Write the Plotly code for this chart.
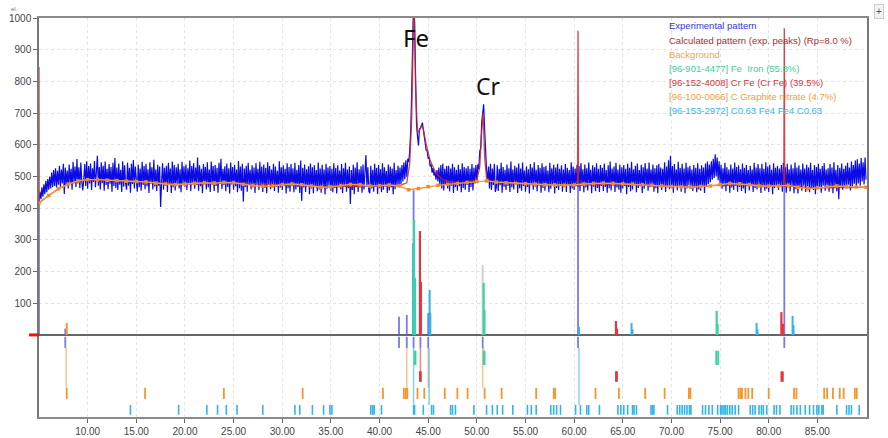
import plotly.graph_objects as go

# ---- measured diffractogram (2-theta step 0.1 deg, from 5.0 to 90.0) ----
START_2THETA, STEP_2THETA = 5.0, 0.1
exp_counts = [
    418, 452, 428, 466, 436, 475, 444, 486, 450, 492,
    458, 500, 462, 512, 466, 520, 470, 526, 465, 518,
    474, 534, 468, 522, 478, 540, 445, 528, 471, 519,
    462, 538, 476, 524, 458, 546, 480, 531, 467, 555,
    478, 529, 463, 544, 482, 456, 490, 539, 470, 548,
    461, 533, 478, 541, 457, 526, 483, 549, 466, 537,
    565, 471, 530, 459, 545, 479, 534, 455, 547, 473,
    524, 460, 539, 477, 530, 452, 543, 470, 558, 464,
    528, 457, 541, 474, 521, 451, 548, 468, 535, 479,
    458, 543, 471, 527, 449, 540, 476, 552, 462, 531,
    478, 452, 538, 466, 525, 455, 546, 473, 533, 460,
    540, 469, 523, 448, 545, 477, 529, 459, 553, 468,
    522, 454, 537, 471, 531, 404, 480, 542, 458, 527,
    470, 534, 451, 543, 476, 525, 448, 547, 466, 536,
    456, 529, 478, 540, 462, 523, 450, 546, 472, 532,
    468, 538, 457, 526, 475, 550, 453, 533, 480, 542,
    461, 528, 473, 560, 455, 535, 469, 524, 447, 539,
    478, 530, 459, 545, 466, 522, 451, 547, 474, 533,
    454, 536, 470, 527, 449, 543, 477, 556, 460, 524,
    472, 532, 453, 541, 467, 526, 446, 544, 475, 530,
    458, 537, 469, 522, 450, 549, 463, 531, 455, 540,
    420, 525, 467, 534, 452, 543, 472, 521, 459, 535,
    466, 528, 448, 542, 474, 524, 457, 546, 469, 531,
    451, 538, 464, 527, 447, 545, 476, 533, 460, 522,
    473, 540, 454, 531, 468, 518, 449, 548, 465, 529,
    457, 535, 471, 524, 446, 542, 463, 530, 452, 539,
    469, 526, 450, 543, 459, 521, 467, 536, 448, 550,
    423, 527, 465, 538, 451, 523, 470, 532, 444, 541,
    462, 529, 447, 535, 466, 520, 453, 544, 459, 525,
    449, 537, 468, 522, 443, 540, 461, 528, 471, 533,
    455, 524, 450, 542, 464, 527, 446, 535, 467, 519,
    460, 539, 448, 526, 469, 543, 452, 522, 463, 531,
    413, 520, 457, 537, 444, 528, 466, 545, 451, 523,
    465, 532, 449, 538, 459, 525, 568, 468, 529, 453,
    447, 534, 462, 521, 452, 540, 467, 527, 445, 536,
    463, 523, 450, 542, 458, 529, 469, 517, 448, 538,
    456, 531, 465, 525, 444, 543, 460, 520, 470, 534,
    468, 528, 476, 536, 484, 544, 491, 551, 499, 556,
    545, 580, 640, 760, 950, 1060, 985, 800, 665, 628,
    598, 650, 652, 658, 670, 648, 620, 606, 582, 580,
    556, 560, 532, 538, 512, 526, 503, 514, 490, 520,
    484, 528, 470, 536, 462, 541, 456, 524, 474, 533,
    462, 534, 453, 525, 471, 540, 448, 529, 467, 521,
    455, 537, 469, 523, 450, 542, 464, 530, 458, 526,
    473, 533, 451, 524, 467, 539, 456, 527, 478, 536,
    486, 538, 522, 580, 590, 672, 700, 728, 650, 560,
    520, 487, 531, 462, 540, 457, 525, 473, 540, 451,
    465, 535, 454, 524, 472, 543, 449, 530, 468, 521,
    457, 538, 470, 526, 451, 547, 466, 522, 459, 534,
    474, 528, 448, 541, 463, 525, 455, 544, 470, 519,
    452, 532, 467, 523, 446, 539, 472, 528, 458, 545,
    468, 521, 453, 536, 471, 527, 449, 542, 464, 530,
    455, 534, 469, 519, 450, 543, 461, 526, 473, 537,
    446, 528, 464, 540, 457, 524, 470, 535, 452, 522,
    466, 539, 451, 527, 473, 520, 448, 545, 462, 531,
    457, 525, 469, 537, 467, 533, 454, 542, 471, 523,
    450, 538, 465, 526, 456, 544, 472, 521, 447, 535,
    468, 529, 453, 542, 464, 524, 451, 536, 470, 527,
    454, 541, 467, 520, 449, 535, 463, 547, 456, 525,
    471, 531, 451, 543, 465, 522, 458, 538, 449, 529,
    462, 536, 470, 524, 444, 540, 467, 527, 453, 546,
    459, 523, 472, 534, 450, 541, 464, 520, 469, 537,
    448, 529, 461, 542, 473, 525, 455, 544, 466, 522,
    469, 538, 452, 526, 463, 535, 447, 540, 471, 528,
    457, 524, 468, 545, 451, 531, 465, 551, 460, 565,
    464, 533, 449, 539, 470, 522, 456, 546, 467, 527,
    452, 540, 466, 525, 447, 543, 462, 529, 473, 534,
    468, 522, 454, 536, 465, 527, 450, 542, 459, 524,
    455, 535, 471, 528, 448, 541, 467, 547, 476, 538,
    482, 548, 490, 556, 495, 570, 500, 560, 488, 548,
    476, 537, 461, 526, 468, 543, 453, 529, 470, 522,
    449, 538, 465, 525, 457, 544, 471, 530, 452, 535,
    467, 523, 454, 541, 462, 527, 447, 536, 469, 520,
    456, 534, 470, 522, 451, 543, 464, 528, 459, 539,
    472, 526, 448, 540, 466, 524, 455, 545, 461, 531,
    451, 537, 468, 521, 444, 542, 463, 527, 470, 534,
    457, 525, 471, 536, 452, 543, 467, 529, 449, 540,
    465, 523, 453, 538, 469, 526, 447, 544, 460, 528,
    446, 535, 464, 522, 455, 541, 471, 525, 451, 537,
    469, 528, 450, 543, 462, 520, 457, 536, 444, 530,
    460, 540, 468, 524, 449, 533, 471, 542, 455, 522,
    466, 526, 452, 539, 463, 528, 447, 545, 469, 521,
    453, 536, 428, 527, 467, 541, 458, 524, 471, 534,
    462, 543, 474, 528, 456, 547, 469, 536, 477, 550,
    466, 554, 478, 541, 471, 558, 484, 545, 475, 560,
    490,
]
exp_2theta = [round(START_2THETA + i * STEP_2THETA, 1) for i in range(len(exp_counts))]

# ---- fitted background (anchor points) ----
bg_2theta = list(range(5, 91))
bg_counts = [
    416, 440, 461, 476, 486, 490, 490, 488, 487, 485,
    484, 483, 479, 476, 474, 476, 478, 480, 479, 481,
    480, 475, 471, 469, 470, 474, 476, 474, 470, 466,
    467, 471, 475, 474, 470, 471, 473, 470, 458, 462,
    468, 472, 475, 478, 481, 484, 486, 482, 480, 478,
    477, 476, 474, 473, 472, 473, 476, 478, 479, 478,
    477, 476, 474, 472, 470, 468, 467, 466, 468, 470,
    474, 478, 477, 474, 470, 469, 470, 472, 466, 461,
    464, 468, 470, 468, 467, 466,
]

# ---- calculated pattern (exp. peaks) ----
calc_2theta = [5.0, 5.02, 6, 7, 8, 10, 15, 20, 25, 30, 35, 40, 42.0, 42.8, 43.1, 43.3,
               43.45, 43.55, 43.7, 43.9, 44.1, 44.3, 44.5, 44.8, 45.2, 45.8, 46.5, 48,
               50.0, 50.3, 50.5, 50.65, 50.8, 51.0, 51.3, 55, 60.35, 60.4, 60.45, 65,
               70, 74, 78, 81.55, 81.6, 81.65, 85, 90]
calc_counts = [845, 418, 440, 461, 476, 490, 484, 476, 480, 474, 467, 471, 470, 480, 540, 680,
               1080, 1080, 780, 640, 645, 662, 650, 600, 550, 510, 490, 478,
               488, 530, 640, 702, 560, 495, 486, 477, 473, 960, 473, 477,
               468, 470, 474, 470, 968, 470, 464, 466]

# ---- peak intensity sticks (above zero) ----
obs_pos = [5.0, 7.7, 42.0, 42.8, 43.5, 45.0, 60.4, 81.6]
obs_h = [418, 20, 57, 63, 457, 69, 472, 472]
faint_pos = [50.6]
faint_h = [221]
fe_pos = [43.55, 43.65, 50.7, 50.78, 74.65, 74.75]
fe_h = [363, 180, 164, 79, 76, 35]
cr_pos = [44.15, 44.25, 64.3, 64.4, 81.3, 81.45]
cr_h = [328, 167, 44, 20, 72, 35]
gr_pos = [7.85]
gr_h = [38]
c063_pos = [43.45, 45.15, 45.22, 60.5, 65.9, 66.0, 78.75, 78.85, 82.45, 82.55]
c063_h = [290, 142, 70, 25, 38, 18, 38, 18, 60, 30]

# ---- reflection positions (marker rows below zero) ----
obs_marks = [7.7, 42.0, 42.8, 43.5, 44.2, 45.0, 50.6, 60.4, 81.6]
fe_marks = [43.6, 43.7, 50.7, 50.8, 74.6, 74.8]
cr_marks = [44.15, 44.25, 64.3, 64.4, 81.3, 81.45]
gr_marks = [7.85, 15.9, 24.0, 32.1, 40.35, 42.5, 42.7, 42.85, 43.9, 44.6, 46.7, 48.0,
            49.05, 50.8, 52.55, 56.1, 57.9, 58.05, 62.2, 64.6, 67.3, 69.3, 71.8, 71.95,
            76.9, 77.1, 77.25, 77.6, 77.9, 78.3, 80.0, 82.6, 82.85, 85.7, 86.0, 86.6,
            87.3, 87.7, 88.85, 89.05]
c063_marks = [14.4, 19.35, 22.25, 23.35, 24.25, 25.35, 28.0, 31.3, 31.8, 33.1, 34.25,
              34.9, 35.1, 39.1, 39.3, 39.45, 40.2, 43.5, 43.6, 44.5, 45.35, 45.55, 47.3,
              47.5, 47.8, 49.7, 51.0, 51.6, 52.1, 52.65, 53.7, 55.2, 55.6, 56.1, 57.6,
              57.9, 58.2, 58.6, 60.15, 60.65, 61.3, 61.5, 62.6, 64.5, 64.8, 65.1, 65.5,
              66.0, 66.15, 66.4, 67.9, 68.05, 68.2, 69.6, 70.6, 70.85, 71.1, 71.35, 71.6,
              71.85, 72.0, 73.2, 73.5, 73.85, 74.2, 74.75, 75.05, 75.2, 75.4, 75.55,
              75.75, 76.0, 76.25, 76.55, 76.9, 78.1, 78.35, 78.6, 79.0, 79.25, 79.45,
              79.8, 80.55, 80.8, 81.15, 82.3, 82.55, 82.9, 83.25, 83.75, 84.2, 84.6,
              84.95, 85.15, 85.45, 85.6, 87.0, 88.0, 88.25, 88.5, 89.3]

# strong reflections joined from the zero line to their phase row
gr_links = [7.8, 42.8, 45.0, 50.6]
c063_links = [43.5, 45.1, 60.5]
cr_links = [44.2]
fe_links = [50.7]

x_ticks = [10, 15, 20, 25, 30, 35, 40, 45, 50, 55, 60, 65, 70, 75, 80, 85]
y_ticks = [100, 200, 300, 400, 500, 600, 700, 800, 900, 1000]

legend_lines = [
    ("Experimental pattern", "#3434e0"),
    ("Calculated pattern (exp. peaks) (Rp=8.0 %)", "#b8282e"),
    ("Background", "#f4a24c"),
    ("[96-901-4477] Fe  Iron (55.8%)", "#3ccf9a"),
    ("[96-152-4008] Cr Fe (Cr Fe) (39.5%)", "#e0323c"),
    ("[96-100-0066] C Graphite nitrate (4.7%)", "#f3a040"),
    ("[96-153-2972] C0.63 Fe4 Fe4 C0.63", "#3ab4ec"),
]

# vertical bands of each marker row (counts units)
ROW_OBS = (-6, -41)
ROW_FE = (-50, -95)
ROW_CR = (-115, -148)
ROW_GR = (-167, -202)
ROW_C063 = (-221, -252)

PURPLE = "rgba(88,88,226,0.8)"
TEAL = "#3ed2a2"
RED = "#e8343c"
ORANGE = "#f29632"
CYAN = "#30b4ea"


def sticks(pos, heights, base=0.0):
    xs, ys = [], []
    for p, h in zip(pos, heights):
        xs += [p, p, None]
        ys += [base, h, None]
    return xs, ys


def row_marks(pos, row):
    xs, ys = [], []
    for p in pos:
        xs += [p, p, None]
        ys += [row[0], row[1], None]
    return xs, ys


def line_trace(xs, ys, color, width):
    return go.Scatter(x=xs, y=ys, mode="lines", line=dict(color=color, width=width),
                      hoverinfo="skip", showlegend=False, cliponaxis=False)


fig = go.Figure()

# connectors from the zero line to the rows
for links, row, color in [(gr_links, ROW_GR, "rgba(242,150,50,0.55)"),
                          (c063_links, ROW_C063, "rgba(48,180,234,0.6)"),
                          (cr_links, ROW_CR, "rgba(232,52,60,0.6)"),
                          (fe_links, ROW_FE, "rgba(62,210,162,0.6)")]:
    fig.add_trace(line_trace(*row_marks(links, (-41, row[0])), color, 1.5))

# marker rows
fig.add_trace(line_trace(*row_marks(obs_marks, ROW_OBS), PURPLE, 1.8))
fig.add_trace(line_trace(*row_marks(fe_marks, ROW_FE), TEAL, 1.8))
fig.add_trace(line_trace(*row_marks(cr_marks, ROW_CR), RED, 1.8))
fig.add_trace(line_trace(*row_marks(gr_marks, ROW_GR), ORANGE, 1.8))
fig.add_trace(line_trace(*row_marks(c063_marks, ROW_C063), CYAN, 1.6))

# peak sticks
fig.add_trace(line_trace(*sticks(obs_pos, obs_h), PURPLE, 1.8))
fig.add_trace(line_trace(*sticks(faint_pos, faint_h), "#d4d4d8", 2.2))
fig.add_trace(line_trace(*sticks(c063_pos, c063_h), CYAN, 2))
fig.add_trace(line_trace(*sticks(fe_pos, fe_h), TEAL, 2.2))
fig.add_trace(line_trace(*sticks(cr_pos, cr_h), RED, 2.2))
fig.add_trace(line_trace(*sticks(gr_pos, gr_h), ORANGE, 2))

# experimental, calculated and background curves
fig.add_trace(go.Scatter(x=exp_2theta, y=exp_counts, mode="lines",
                         line=dict(color="#0a0ae4", width=1.2), hoverinfo="skip",
                         showlegend=False))
fig.add_trace(go.Scatter(x=calc_2theta, y=calc_counts, mode="lines",
                         line=dict(color="#c8262c", width=1.3), opacity=0.85,
                         hoverinfo="skip", showlegend=False))
fig.add_trace(go.Scatter(x=bg_2theta, y=bg_counts, mode="lines+markers",
                         line=dict(color="#f39a3a", width=1.4),
                         marker=dict(color="#f08a28", size=3.5, symbol="square"),
                         hoverinfo="skip", showlegend=False))

# legend block
for i, (text, color) in enumerate(legend_lines):
    fig.add_annotation(xref="paper", yref="paper", x=0.7585, y=0.980 - i * 0.0355,
                       xanchor="left", yanchor="middle", showarrow=False,
                       text=text, font=dict(family="Liberation Sans", size=9.5, color=color))

# phase labels
fig.add_annotation(x=43.7, y=937, text="Fe", showarrow=False,
                   font=dict(family="Noto Sans", size=24, color="#111111"))
fig.add_annotation(x=51.2, y=786, text="Cr", showarrow=False,
                   font=dict(family="Noto Sans", size=23, color="#111111"))

# small widgets around the frame
fig.add_annotation(xref="paper", yref="paper", x=1.02, y=1.035, text="+", showarrow=False,
                   font=dict(family="Liberation Sans", size=10, color="#555555"),
                   bgcolor="#f3f3f3", bordercolor="#cccccc", borderwidth=1, borderpad=1)
fig.add_annotation(xref="paper", yref="paper", x=-0.036, y=1.034, text="el.", showarrow=False,
                   font=dict(family="Liberation Sans", size=6, color="#777777"))
fig.add_shape(type="line", xref="paper", yref="y", x0=-0.012, x1=0.0, y0=0, y1=0,
              line=dict(color="#ee1111", width=3))

fig.update_layout(
    width=888, height=438,
    margin=dict(l=39, r=21, t=18, b=21),
    paper_bgcolor="white", plot_bgcolor="white",
    font=dict(family="Liberation Sans", size=10, color="#444444"),
    xaxis=dict(range=[5.0, 90.1], tickvals=x_ticks, tickformat=".2f", automargin=False,
               showgrid=True, gridcolor="#e4e4e4", griddash="dot", gridwidth=1,
               showline=True, linecolor="#8a8a8a", linewidth=2, mirror=True,
               layer="below traces",
               ticks="outside", ticklen=4, tickcolor="#666666", zeroline=False),
    yaxis=dict(range=[-259, 1000], tickvals=y_ticks, automargin=False,
               showgrid=True, gridcolor="#e4e4e4", griddash="dot", gridwidth=1,
               showline=True, linecolor="#777777", linewidth=1.5, mirror=True,
               layer="below traces",
               ticks="outside", ticklen=4, tickcolor="#666666",
               zeroline=True, zerolinecolor="#666666", zerolinewidth=1.5),
)

fig.write_html("out.html")
